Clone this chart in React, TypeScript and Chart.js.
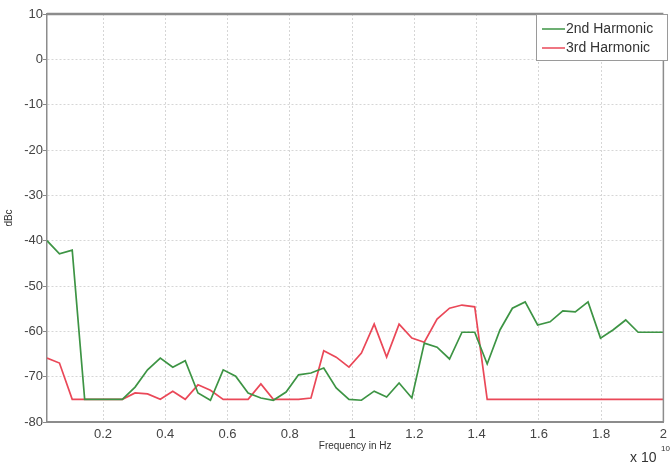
import React, { useEffect, useRef } from "react";
import { Chart, registerables } from "chart.js";

Chart.register(...registerables);

// Frequency in units of 1e10 Hz
const frequency = [
  0.020, 0.060, 0.101, 0.141, 0.182, 0.222, 0.262, 0.303, 0.343, 0.384,
  0.424, 0.464, 0.505, 0.545, 0.586, 0.626, 0.666, 0.707, 0.747, 0.788,
  0.828, 0.868, 0.909, 0.949, 0.990, 1.030, 1.071, 1.111, 1.151, 1.192,
  1.232, 1.273, 1.313, 1.353, 1.394, 1.434, 1.475, 1.515, 1.556, 1.596,
  1.636, 1.677, 1.717, 1.758, 1.798, 1.838, 1.879, 1.919, 1.960, 2.000,
];

const secondHarmonic = [
  -40.0, -42.9, -42.1, -75.0, -75.0, -75.0, -75.0, -72.3, -68.5, -65.9,
  -67.9, -66.5, -73.6, -75.2, -68.5, -69.9, -73.6, -74.7, -75.2, -73.4,
  -69.6, -69.2, -68.1, -72.5, -75.0, -75.2, -73.2, -74.5, -71.4, -74.7,
  -62.6, -63.5, -66.1, -60.2, -60.2, -67.2, -59.7, -54.9, -53.5, -58.6,
  -57.9, -55.5, -55.7, -53.5, -61.5, -59.7, -57.5, -60.2, -60.2, -60.2,
];

const thirdHarmonic = [
  -65.9, -67.0, -75.0, -75.0, -75.0, -75.0, -75.0, -73.6, -73.8, -75.0,
  -73.2, -75.0, -71.8, -73.0, -75.0, -75.0, -75.0, -71.6, -75.0, -75.0,
  -75.0, -74.7, -64.3, -65.7, -67.9, -64.8, -58.4, -65.7, -58.4, -61.5,
  -62.4, -57.3, -54.9, -54.2, -54.6, -75.0, -75.0, -75.0, -75.0, -75.0,
  -75.0, -75.0, -75.0, -75.0, -75.0, -75.0, -75.0, -75.0, -75.0, -75.0,
];

const xTicks = [0.2, 0.4, 0.6, 0.8, 1.0, 1.2, 1.4, 1.6, 1.8, 2.0];
const yTicks = [-80, -70, -60, -50, -40, -30, -20, -10, 0, 10];

const seriesNames = ["2nd Harmonic", "3rd Harmonic"];
const seriesColors = ["#3d9444", "#ea4858"];

const FONT = "'Liberation Sans', Arial, sans-serif";

const decorPlugin = {
  id: "decor",
  afterDraw(chart: any) {
    const { ctx, chartArea: a } = chart;
    ctx.save();
    // frame top + right
    ctx.strokeStyle = "#8c8c8c";
    ctx.lineWidth = 2.5;
    ctx.beginPath();
    ctx.moveTo(a.left, a.top);
    ctx.lineTo(a.right, a.top);
    ctx.stroke();
    ctx.lineWidth = 1.5;
    ctx.beginPath();
    ctx.moveTo(a.right, a.top);
    ctx.lineTo(a.right, a.bottom);
    ctx.stroke();

    // legend box
    const bx = 536, by = 14, bw = 131, bh = 46;
    ctx.fillStyle = "#ffffff";
    ctx.fillRect(bx, by, bw, bh);
    ctx.strokeStyle = "#9a9a9a";
    ctx.lineWidth = 1;
    ctx.strokeRect(bx + 0.5, by + 0.5, bw, bh);
    ctx.font = `14px ${FONT}`;
    ctx.textBaseline = "middle";
    ctx.textAlign = "left";
    seriesNames.forEach((name, i) => {
      const y = 29 + i * 19;
      ctx.strokeStyle = seriesColors[i];
      ctx.lineWidth = 1.5;
      ctx.beginPath();
      ctx.moveTo(542, y);
      ctx.lineTo(565, y);
      ctx.stroke();
      ctx.fillStyle = "#333333";
      ctx.fillText(name, 566, y);
    });

    // exponent label
    ctx.fillStyle = "#333333";
    ctx.font = `14px ${FONT}`;
    ctx.textBaseline = "middle";
    ctx.fillText("x 10", 630, 458);
    ctx.font = `8px ${FONT}`;
    ctx.fillText("10", 661, 449);
    ctx.restore();
  },
};

export default function App() {
  const canvasRef = useRef<HTMLCanvasElement | null>(null);

  useEffect(() => {
    if (!canvasRef.current) return;
    const chart = new Chart(canvasRef.current, {
      type: "line",
      data: {
        datasets: [
          {
            label: seriesNames[0],
            data: frequency.map((f, i) => ({ x: f, y: secondHarmonic[i] })),
            borderColor: seriesColors[0],
            borderWidth: 1.7,
            pointRadius: 0,
            tension: 0,
            fill: false,
          },
          {
            label: seriesNames[1],
            data: frequency.map((f, i) => ({ x: f, y: thirdHarmonic[i] })),
            borderColor: seriesColors[1],
            borderWidth: 1.7,
            pointRadius: 0,
            tension: 0,
            fill: false,
          },
        ],
      },
      options: {
        animation: false,
        responsive: false,
        maintainAspectRatio: false,
        layout: { padding: { top: 14, right: 2, left: 0, bottom: 0 } },
        plugins: {
          legend: { display: false },
          tooltip: { enabled: false },
        },
        scales: {
          x: {
            type: "linear",
            min: 0.02,
            max: 2.0,
            afterBuildTicks: (scale: any) => {
              scale.ticks = xTicks.map((v) => ({ value: v }));
            },
            afterFit: (scale: any) => {
              scale.height = 44;
            },
            ticks: {
              autoSkip: false,
              maxRotation: 0,
              padding: 5,
              color: "#444444",
              font: { family: FONT, size: 13 },
              callback: (v: any) => String(Number(Number(v).toFixed(1))),
            },
            grid: {
              color: "#d6d6d6",
              drawTicks: false,
              lineWidth: 1,
            },
            border: { display: true, color: "#8c8c8c", width: 2, dash: [2, 2] },
            title: {
              display: true,
              text: "Frequency in Hz",
              color: "#333333",
              font: { family: FONT, size: 10 },
              padding: { top: 0, bottom: 14 },
            },
          },
          y: {
            type: "linear",
            min: -80,
            max: 10,
            afterBuildTicks: (scale: any) => {
              scale.ticks = yTicks.map((v) => ({ value: v }));
            },
            afterFit: (scale: any) => {
              scale.width = 47;
            },
            ticks: {
              autoSkip: false,
              padding: 0,
              color: "#444444",
              font: { family: FONT, size: 13 },
              callback: (v: any) => String(v),
            },
            grid: {
              color: "#d6d6d6",
              drawTicks: true,
              tickLength: 4,
              tickColor: "#888888",
              tickBorderDash: [],
              lineWidth: 1,
            },
            border: { display: true, color: "#8c8c8c", width: 1.5, dash: [2, 2] },
            title: {
              display: true,
              text: "dBc",
              color: "#333333",
              font: { family: FONT, size: 10 },
              padding: { top: 3, bottom: 0 },
            },
          },
        },
      },
      plugins: [decorPlugin],
    });
    return () => chart.destroy();
  }, []);

  return (
    <div style={{ position: "fixed", left: 0, top: 0, width: 672, height: 466, background: "#ffffff" }}>
      <canvas ref={canvasRef} width={672} height={466} style={{ display: "block" }} />
    </div>
  );
}
